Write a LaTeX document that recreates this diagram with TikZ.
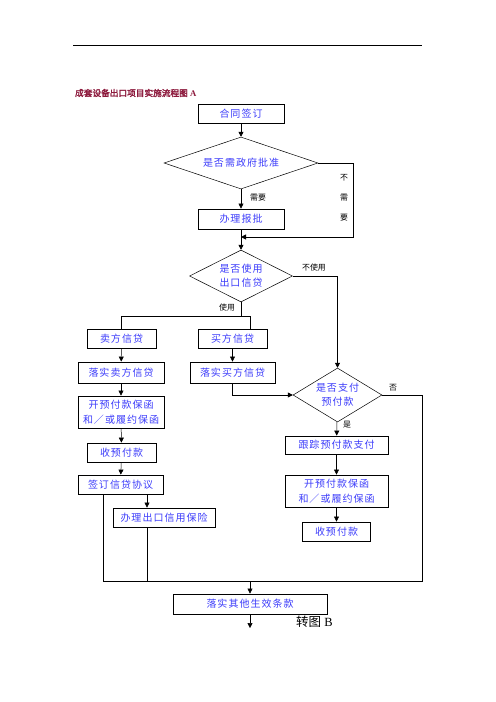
\documentclass[tikz,border=0pt]{standalone}
\usepackage{fontspec}
\setmainfont{Liberation Serif}
\newfontfamily\cjk[AutoFakeBold=2.5]{Noto Sans CJK SC}
\newfontfamily\cjkbox[LetterSpace=10]{Noto Sans CJK SC}
\usetikzlibrary{shapes.geometric}
\usetikzlibrary{arrows.meta}
\definecolor{boxtext}{RGB}{60,60,250}
\definecolor{titlered}{RGB}{140,25,60}
\tikzset{
    mybox/.style = {rectangle, line width=1pt, draw=black, inner sep=0pt, align=center, text=boxtext, font=\cjkbox\fontsize{12}{17.5}\selectfont},
    mydia/.style = {diamond, line width=0.6pt, draw=black, inner sep=0pt, aspect=2, align=center, text=boxtext, font=\cjkbox\fontsize{12}{16.5}\selectfont},
    sz/.style 2 args = {minimum width=#1*1.2pt, minimum height=#2*1.2pt},
    mylabel/.style = {inner sep=0pt, text=black, font=\cjk\fontsize{9.5}{11}\selectfont},
    edgen/.style = {-, line width=0.6pt, black},
    edgea/.style = {-{Triangle[length=6pt,width=6pt]}, line width=0.6pt, black},
}

\begin{document}
\begin{tikzpicture}[x=1.2pt,y=-1.2pt]
\path[use as bounding box] (0,0) rectangle (496,702);
%
\coordinate (hl) at (73,45);
\coordinate (hr) at (422,45);
\draw[line width=0.9pt] (hl) -- (hr);
\node[anchor=west, inner sep=0pt, text=titlered, font=\fontsize{10.4}{12}\selectfont] at (75,93) (title) {{\cjk\bfseries 成套设备出口项目实施流程图}~\textbf{A}};
%
\node[mybox, sz={86}{19}] at (241,113.5) (hetong) {合同签订};
\node[mydia, sz={154}{52}] at (241,163) (zhengfu) {是否需政府批准};
\node[mybox, sz={86}{20}] at (241,219) (baopi) {办理报批};
\node[mydia, sz={103}{52}] at (241,276) (xindai) {是否使用\\出口信贷};
%
\node[mybox, sz={69}{19}] at (121.5,338.5) (seller) {卖方信贷};
\node[mybox, sz={86}{21}] at (121,372.5) (lsseller) {落实卖方信贷};
\node[mybox, sz={86}{32}] at (121,412) (kaihan) {开预付款保函\\和／或履约保函};
\node[mybox, sz={69}{19}] at (121.5,452.5) (shoukuan) {收预付款};
\node[mybox, sz={85}{19}] at (120.5,484.5) (xieyi) {签订信贷协议};
\node[mybox, sz={102}{19}] at (164,517.5) (baoxian) {办理出口信用保险};
%
\node[mybox, sz={69}{19}] at (232.5,338.5) (buyer) {买方信贷};
\node[mybox, sz={85}{21}] at (232.5,372.5) (lsbuyer) {落实买方信贷};
%
\node[mydia, sz={85}{54}] at (337.5,395) (zhifu) {是否支付\\预付款};
\node[mybox, sz={103}{18}] at (336.5,445) (genzong) {跟踪预付款支付};
\node[mybox, sz={103}{32}] at (336.5,491) (kaihanb) {开预付款保函\\和／或履约保函};
\node[mybox, sz={68}{19}] at (336.5,531.5) (shoukuanb) {收预付款};
%
\node[mybox, sz={154}{20}] at (250,604) (qita) {落实其他生效条款};
\node[anchor=west, inner sep=0pt, font=\fontsize{15}{17}\selectfont] at (296,622) (zhuan) {{\cjk 转图}~B};
%
\node[mylabel] at (258,198) (xuyao) {需要};
\node[mylabel, align=center, font=\cjk\fontsize{9.5}{24}\selectfont] at (344,198) (buxuyao) {不\\需\\要};
\node[mylabel] at (314,268) (bushiyong) {不使用};
\node[mylabel] at (227,308) (shiyong) {使用};
\node[mylabel] at (393,388) (fou) {否};
\node[mylabel] at (347,425) (shi) {是};
%
\coordinate (bux) at (353,237);
\coordinate (merge) at (241,237);
\coordinate (fork) at (241,316);
\coordinate (fq) at (422,581);
\coordinate (fl) at (103,581);
\coordinate (bx) at (147,581);
\coordinate (mg) at (250,581);
\coordinate (end) at (250,628);
%
\draw[edgea] (hetong) -- (zhengfu);
\draw[edgea] (zhengfu) -- (baopi);
\draw[edgea] (zhengfu.east) -| (bux) -- (merge);
\draw[edgea] (baopi) -- (xindai);
\draw[edgea] (xindai.east) -| (zhifu.north);
\draw[edgen] (xindai.south) -- (fork);
\draw[edgen] (fork) -| (seller.north);
\draw[edgen] (fork) -| ([xshift=21pt]buyer.north);
%
\draw[edgea] (seller) -- (lsseller);
\draw[edgea] (lsseller) -- (kaihan);
\draw[edgea] (kaihan) -- (shoukuan);
\draw[edgea] (shoukuan) -- (xieyi);
\draw[edgea] (xieyi.south -| bx) -- (baoxian.north -| bx);
\draw[edgen] (xieyi.south -| fl) -- (fl);
\draw[edgen] (baoxian.south -| bx) -- (bx);
%
\draw[edgea] (buyer) -- (lsbuyer);
\draw[edgea] (lsbuyer.south) |- (zhifu.west);
\draw[edgea] (zhifu) -- (genzong);
\draw[edgea] (genzong) -- (kaihanb);
\draw[edgea] (kaihanb) -- (shoukuanb);
\draw[edgen] (zhifu.east) -| (fq) -- (fl);
%
\draw[edgea] (mg) -- (qita);
\draw[edgea] (qita) -- (end);
\end{tikzpicture}
\end{document}
